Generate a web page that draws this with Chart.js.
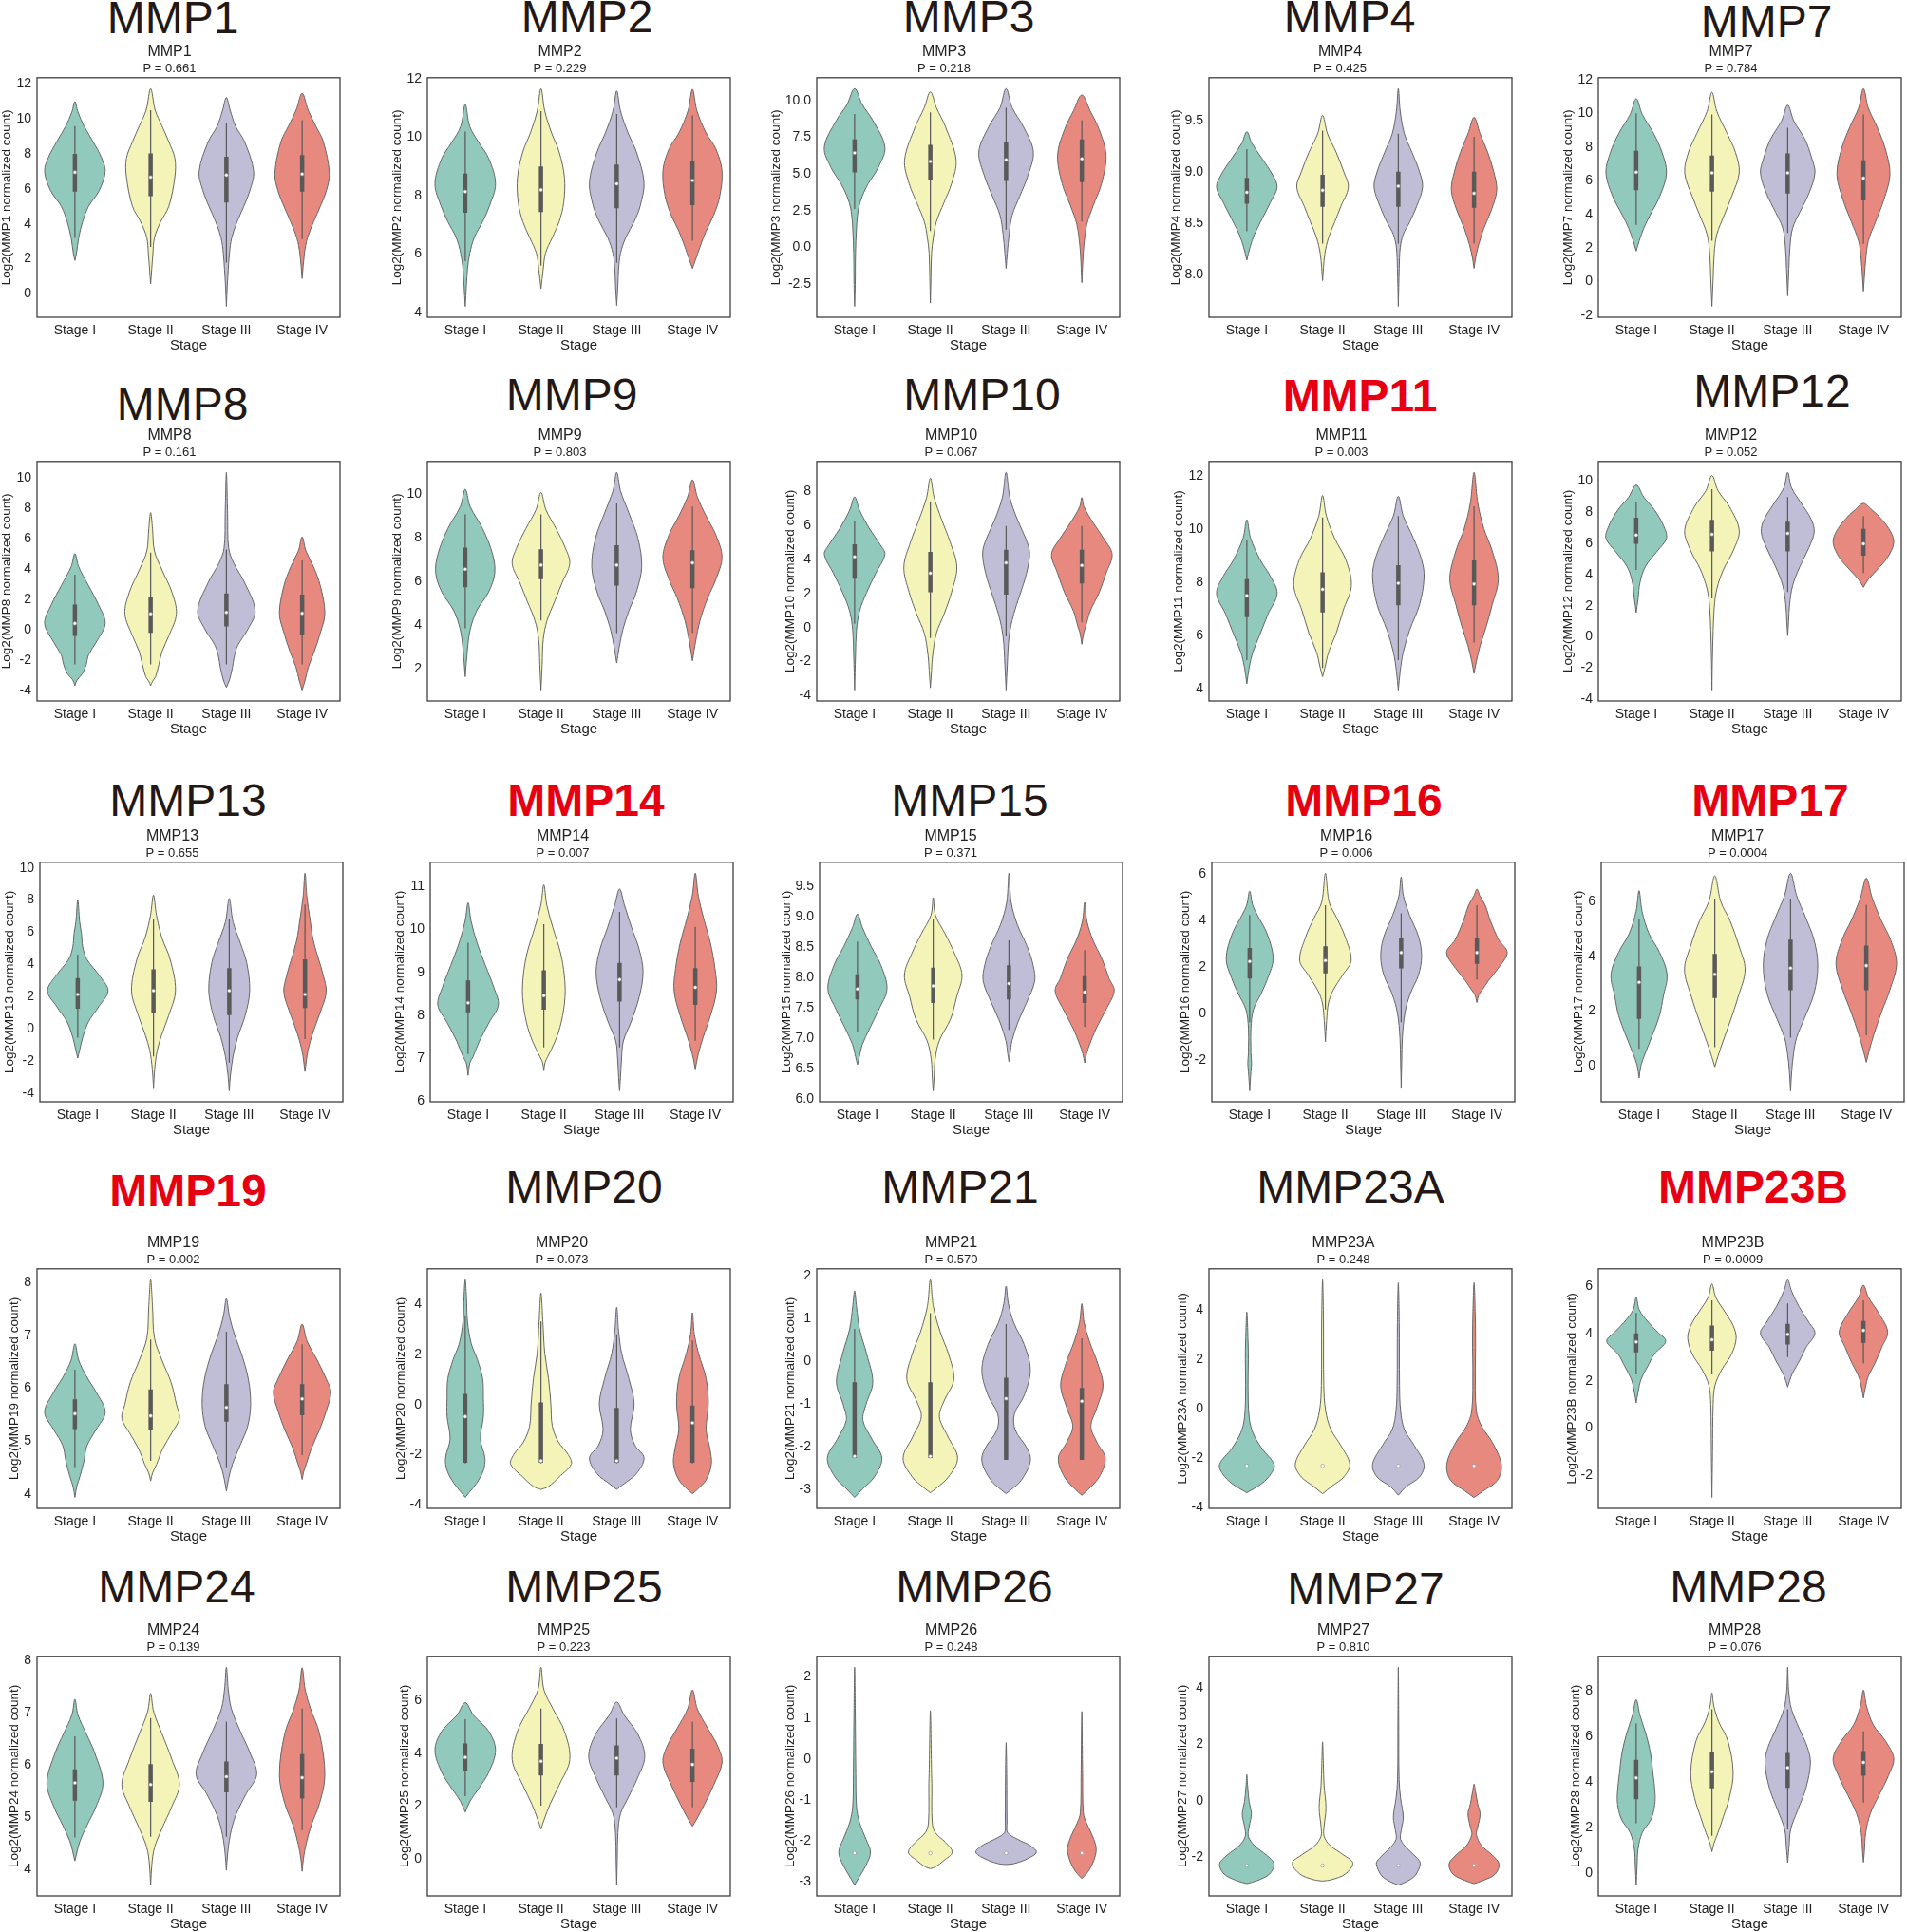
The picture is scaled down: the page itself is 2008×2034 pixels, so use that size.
<!DOCTYPE html>
<html>
<head>
<meta charset="utf-8">
<script src="https://cdn.jsdelivr.net/npm/chart.js@4.4.1/dist/chart.umd.min.js"></script>
<style>
  body { margin: 0; background: #fff; width: 2008px; height: 2034px; position: relative; overflow: hidden;
         font-family: 'Liberation Sans', Arial, Helvetica, sans-serif; }
  .big { position: absolute; font-size: 48px; line-height: 48px; color: #231815; white-space: nowrap; transform: translateX(-50%); }
  .big.sig { color: #e60012; font-weight: bold; }
  canvas { position: absolute; }
</style>
</head>
<body>
<script>
// ---- data ----
const STAGES = ['Stage I', 'Stage II', 'Stage III', 'Stage IV'];
const GENES = ['MMP1', 'MMP2', 'MMP3', 'MMP4', 'MMP7',
               'MMP8', 'MMP9', 'MMP10', 'MMP11', 'MMP12',
               'MMP13', 'MMP14', 'MMP15', 'MMP16', 'MMP17',
               'MMP19', 'MMP20', 'MMP21', 'MMP23A', 'MMP23B',
               'MMP24', 'MMP25', 'MMP26', 'MMP27', 'MMP28'];
const P_VALUES = ['0.661', '0.229', '0.218', '0.425', '0.784',
                  '0.161', '0.803', '0.067', '0.003', '0.052',
                  '0.655', '0.007', '0.371', '0.006', '0.0004',
                  '0.002', '0.073', '0.570', '0.248', '0.0009',
                  '0.139', '0.223', '0.248', '0.810', '0.076'];
const SIGNIFICANT = ['MMP11', 'MMP14', 'MMP16', 'MMP17', 'MMP19', 'MMP23B'];
const Y_TICKS = [
  [0, 2, 4, 6, 8, 10, 12], [4, 6, 8, 10, 12], [-2.5, 0, 2.5, 5, 7.5, 10], [8, 8.5, 9, 9.5], [-2, 0, 2, 4, 6, 8, 10, 12],
  [-4, -2, 0, 2, 4, 6, 8, 10], [2, 4, 6, 8, 10], [-4, -2, 0, 2, 4, 6, 8], [4, 6, 8, 10, 12], [-4, -2, 0, 2, 4, 6, 8, 10],
  [-4, -2, 0, 2, 4, 6, 8, 10], [6, 7, 8, 9, 10, 11], [6, 6.5, 7, 7.5, 8, 8.5, 9, 9.5], [-2, 0, 2, 4, 6], [0, 2, 4, 6],
  [4, 5, 6, 7, 8], [-4, -2, 0, 2, 4], [-3, -2, -1, 0, 1, 2], [-4, -2, 0, 2, 4], [-2, 0, 2, 4, 6],
  [4, 5, 6, 7, 8], [0, 2, 4, 6], [-3, -2, -1, 0, 1, 2], [-2, 0, 2, 4], [0, 2, 4, 6, 8]
];
const Y_DECIMALS = [0, 0, 1, 1, 0, 0, 0, 0, 0, 0, 0, 0, 1, 0, 0, 0, 0, 0, 0, 0, 0, 0, 0, 0, 0];

// violin outlines: [value, half-width, value, half-width, ...] from lower tip to upper tip
// boxes: [lower whisker, q1, median, q3, upper whisker]
const MMP1_VIOLIN = [
  [1.9,0, 2.3,.02, 3.2,.05, 4.1,.10, 5.0,.18, 5.9,.32, 7.0,.40, 7.8,.35, 8.7,.24, 9.6,.12, 10.4,.04, 11.0,0],
  [0.56,0, 2.3,.03, 3.2,.05, 4.1,.13, 5.0,.24, 6.7,.32, 7.75,.32, 8.7,.24, 9.6,.15, 10.5,.06, 11.74,0],
  [-0.72,0, 0.5,.012, 1.4,.025, 2.3,.04, 3.2,.07, 4.1,.14, 5.0,.23, 5.9,.31, 7.0,.36, 8.7,.24, 9.6,.12, 10.5,.05, 11.23,0],
  [0.87,0, 2.3,.03, 3.2,.07, 4.1,.15, 5.0,.24, 5.9,.32, 6.9,.36, 8.7,.28, 9.6,.18, 10.5,.08, 11.47,0]];
const MMP1_BOX = [[3.2,5.85,6.95,8.0,9.6], [2.68,5.58,6.67,8.03,10.5], [1.78,5.22,6.79,7.84,9.78], [3.13,5.85,6.85,7.93,9.93]];

const MMP2_VIOLIN = [
  [4.21,0, 4.94,.016, 5.49,.03, 6.03,.06, 6.57,.12, 7.11,.23, 7.65,.32, 8.41,.40, 9.28,.31, 9.82,.18, 10.37,.06, 11.13,0],
  [4.81,0, 5.49,.03, 6.03,.06, 6.57,.15, 7.11,.24, 7.76,.30, 8.63,.31, 9.5,.24, 10.15,.14, 10.9,.05, 11.67,0],
  [4.24,0, 4.94,.016, 5.49,.025, 6.03,.05, 6.57,.12, 7.11,.23, 7.65,.31, 8.47,.36, 9.5,.26, 10.15,.15, 10.9,.05, 11.59,0],
  [5.51,0, 5.8,.04, 6.25,.10, 6.79,.18, 7.33,.28, 7.98,.36, 8.85,.39, 9.6,.31, 10.15,.18, 10.9,.06, 11.65,0]];
const MMP2_BOX = [[5.76,7.42,8.14,8.76,10.2], [5.6,7.44,8.2,9.0,10.9], [5.7,7.57,8.41,9.07,10.8], [6.46,7.68,8.52,9.2,10.75]];

const MMP3_VIOLIN = [
  [-4.0,0, -2.5,.008, -0.4,.012, 1.33,.025, 2.62,.05, 3.48,.10, 4.34,.18, 5.42,.31, 6.82,.40, 8.65,.24, 9.72,.10, 10.8,0],
  [-3.78,0, -2.0,.008, -0.39,.016, 0.69,.04, 1.76,.08, 3.05,.18, 4.34,.28, 5.96,.34, 8.2,.20, 9.5,.08, 10.58,0],
  [-1.42,0, -0.39,.016, 0.9,.04, 2.19,.08, 3.48,.18, 4.77,.28, 6.49,.36, 8.2,.23, 9.5,.08, 10.8,0],
  [-2.39,0, -1.0,.012, 0.04,.025, 1.55,.065, 2.84,.15, 4.34,.26, 6.28,.32, 8.0,.23, 9.29,.11, 10.37,0]];
const MMP3_BOX = [[2.62,5.1,6.43,7.35,9.08], [1.12,4.56,5.85,6.97,9.18], [1.22,4.52,5.96,7.14,9.5], [1.76,4.45,6.02,7.35,8.65]];

const MMP4_VIOLIN = [
  [8.14,0, 8.26,.04, 8.39,.10, 8.54,.20, 8.7,.31, 8.85,.40, 8.97,.34, 9.13,.20, 9.28,.065, 9.39,0],
  [7.94,0, 8.2,.03, 8.36,.08, 8.51,.16, 8.66,.24, 8.85,.34, 9.0,.28, 9.19,.18, 9.37,.065, 9.55,0],
  [7.69,0, 8.06,.012, 8.26,.025, 8.39,.065, 8.51,.15, 8.66,.24, 8.85,.32, 9.0,.28, 9.19,.18, 9.37,.08, 9.59,.025, 9.81,0],
  [8.06,0, 8.18,.025, 8.3,.065, 8.45,.13, 8.63,.23, 8.82,.30, 9.0,.26, 9.19,.18, 9.37,.08, 9.53,0]];
const MMP4_BOX = [[8.42,8.69,8.8,8.94,9.22], [8.3,8.66,8.82,8.97,9.4], [8.3,8.66,8.86,9.0,9.37], [8.3,8.65,8.79,9.0,9.34]];

const MMP7_VIOLIN = [
  [1.82,0, 2.43,.04, 3.18,.10, 3.93,.18, 5.06,.31, 6.46,.40, 7.68,.34, 8.8,.23, 9.93,.08, 10.86,0],
  [-1.46,0, 0.2,.016, 1.69,.03, 2.81,.065, 3.93,.16, 5.06,.26, 6.46,.36, 7.68,.31, 8.8,.20, 10.1,.065, 11.24,0],
  [-0.84,0, 0.8,.016, 2.06,.03, 3.18,.065, 4.12,.16, 5.24,.28, 6.46,.36, 7.3,.32, 8.43,.23, 9.55,.08, 10.49,0],
  [-0.56,0, 1.31,.03, 2.43,.065, 3.56,.16, 4.87,.27, 6.37,.35, 7.87,.29, 9.18,.18, 10.3,.065, 11.46,0]];
const MMP7_BOX = [[3.37,5.43,6.5,7.77,10.0], [2.43,5.34,6.46,7.49,9.93], [2.9,5.24,6.46,7.62,9.14], [2.25,4.83,6.14,7.21,9.93]];

const MMP8_VIOLIN = [
  [-3.69,0, -3.3,.03, -2.9,.10, -2.28,.15, -1.66,.18, -0.83,.28, 0.41,.40, 1.66,.31, 2.9,.18, 4.15,.05, 5.02,0],
  [-3.69,0, -3.4,.025, -3.1,.065, -2.28,.11, -1.45,.15, -0.41,.24, 1.04,.34, 2.49,.28, 3.94,.15, 5.19,.05, 6.64,.025, 7.72,0],
  [-3.8,0, -3.32,.04, -2.49,.08, -1.87,.10, -1.04,.15, 0.0,.28, 1.24,.38, 3.11,.24, 4.36,.10, 5.39,.03, 7.68,.016, 10.37,0],
  [-3.98,0, -3.32,.04, -2.49,.08, -1.45,.16, -0.21,.24, 1.08,.30, 2.9,.24, 4.15,.15, 5.19,.05, 6.12,0]];
const MMP8_BOX = [[-2.28,-0.41,0.41,1.66,3.63], [-2.28,-0.2,1.04,2.12,5.08], [-2.28,0.21,1.14,2.39,5.29], [-2.28,-0.31,1.08,2.32,4.56]];

const MMP9_VIOLIN = [
  [1.62,0, 2.9,.03, 3.77,.065, 4.64,.15, 5.51,.31, 6.38,.39, 7.25,.36, 8.41,.23, 9.42,.065, 10.22,0],
  [1.01,0, 2.2,.016, 3.33,.03, 4.2,.08, 5.07,.18, 5.94,.28, 6.81,.38, 7.54,.32, 8.41,.20, 9.28,.065, 10.07,0],
  [2.25,0, 2.9,.03, 3.77,.08, 4.64,.16, 5.51,.26, 6.67,.33, 7.97,.28, 9.13,.16, 10.14,.05, 10.99,0],
  [2.35,0, 3.2,.04, 4.2,.10, 5.22,.20, 6.09,.31, 7.1,.39, 8.12,.31, 8.99,.18, 9.86,.065, 10.65,0]];
const MMP9_BOX = [[3.84,5.72,6.55,7.54,9.06], [4.2,6.09,6.74,7.46,9.06], [3.62,5.8,6.74,7.65,9.57], [3.62,5.68,6.84,7.42,9.42]];

const MMP10_VIOLIN = [
  [-3.67,0, -1.63,.012, -0.15,.025, 0.96,.065, 2.07,.16, 3.19,.28, 4.3,.40, 4.85,.34, 5.78,.20, 6.89,.065, 7.67,0],
  [-3.54,0, -2.5,.016, -1.63,.03, -0.33,.08, 0.78,.18, 2.07,.28, 3.56,.35, 5.04,.26, 6.33,.15, 7.63,.05, 8.78,0],
  [-3.67,0, -2.2,.016, -0.52,.04, 0.78,.10, 1.89,.18, 3.19,.27, 4.39,.31, 5.22,.26, 6.33,.15, 7.63,.05, 9.11,0],
  [-0.98,0, -0.3,.025, 0.04,.05, 0.96,.11, 2.07,.23, 3.19,.32, 4.3,.40, 5.22,.29, 6.15,.15, 7.07,.03, 7.63,0]];
const MMP10_BOX = [[0.22,2.87,4.15,4.89,6.24], [-0.61,2.07,3.19,4.44,7.35], [-0.52,1.93,3.8,4.57,5.96], [0.31,2.59,3.65,4.57,5.96]];

const MMP11_VIOLIN = [
  [4.18,0, 4.77,.03, 5.37,.08, 6.08,.18, 6.8,.28, 7.57,.40, 8.23,.31, 8.82,.18, 9.65,.05, 10.35,0],
  [4.44,0, 4.77,.03, 5.37,.08, 6.08,.18, 6.92,.27, 7.87,.38, 8.82,.31, 9.65,.16, 10.49,.05, 11.26,0],
  [3.94,0, 4.65,.025, 5.37,.065, 6.2,.15, 7.15,.28, 8.17,.34, 8.82,.31, 9.65,.20, 10.49,.065, 11.23,0],
  [4.56,0, 5.01,.03, 5.61,.08, 6.32,.16, 7.15,.24, 8.11,.32, 9.18,.24, 10.01,.13, 10.96,.05, 12.13,0]];
const MMP11_BOX = [[5.07,6.68,7.49,8.11,9.6], [4.77,6.86,7.73,8.37,10.43], [5.07,7.13,7.96,8.64,10.49], [5.73,7.13,7.93,8.82,10.85]];

const MMP12_VIOLIN = [
  [1.57,0, 2.48,.025, 3.5,.05, 4.51,.12, 5.53,.28, 6.34,.40, 7.15,.36, 8.17,.24, 8.98,.10, 9.76,0],
  [-3.41,0, -1.0,.008, 1.87,.03, 3.09,.065, 4.31,.15, 5.53,.28, 6.85,.36, 8.37,.23, 9.39,.08, 10.37,0],
  [0.08,0, 1.0,.012, 2.07,.025, 3.29,.065, 4.51,.16, 5.73,.28, 6.75,.35, 7.56,.31, 8.58,.18, 9.59,.05, 10.57,0],
  [3.19,0, 3.7,.065, 4.31,.18, 5.12,.32, 6.04,.40, 6.75,.36, 7.56,.24, 8.17,.11, 8.58,0]];
const MMP12_BOX = [[4.31,5.98,6.54,7.66,8.68], [2.48,5.49,6.59,7.52,9.49], [2.89,5.49,6.65,7.4,8.98], [4.1,5.22,5.98,6.95,7.76]];

const MMP13_VIOLIN = [
  [-1.81,0, -1.32,.025, -0.54,.065, 0.43,.14, 1.4,.28, 2.37,.40, 3.35,.28, 4.32,.12, 5.1,.065, 5.88,.05, 6.65,.025, 8.02,0],
  [-3.66,0, -2.49,.016, -1.32,.05, -0.35,.11, 0.82,.20, 2.37,.29, 4.32,.22, 5.68,.11, 7.04,.04, 8.31,0],
  [-3.85,0, -2.88,.016, -1.71,.05, -0.54,.11, 0.82,.21, 2.37,.27, 4.12,.23, 5.29,.15, 6.65,.05, 8.11,0],
  [-2.65,0, -1.32,.04, -0.16,.11, 1.01,.20, 2.28,.28, 3.35,.24, 4.32,.18, 5.49,.11, 6.85,.065, 8.21,.025, 9.67,0]];
const MMP13_BOX = [[-0.54,1.25,2.14,3.15,4.61], [-1.71,0.97,2.37,3.7,6.85], [-2.1,0.86,2.37,3.77,6.85], [-0.64,1.3,2.14,4.32,7.72]];

const MMP14_VIOLIN = [
  [6.6,0, 6.9,.025, 7.03,.065, 7.4,.15, 7.84,.28, 8.24,.40, 8.65,.34, 9.16,.23, 9.68,.12, 10.19,.04, 10.62,0],
  [6.71,0, 6.9,.016, 7.03,.05, 7.4,.15, 7.84,.23, 8.43,.28, 8.94,.27, 9.46,.22, 10.04,.12, 10.56,.04, 11.04,0],
  [6.24,0, 6.55,.012, 6.96,.025, 7.4,.05, 7.84,.15, 8.43,.26, 9.01,.31, 9.53,.26, 10.04,.16, 10.56,.065, 10.94,0],
  [6.75,0, 6.9,.016, 7.1,.04, 7.47,.10, 7.99,.20, 8.57,.28, 9.09,.26, 9.68,.20, 10.26,.11, 10.78,.04, 11.31,0]];
const MMP14_BOX = [[7.1,8.07,8.29,8.81,9.69], [7.25,8.13,8.46,9.05,10.12], [7.25,8.32,8.83,9.22,10.41], [7.41,8.24,8.65,9.1,10.06]];

const MMP15_VIOLIN = [
  [6.57,0, 6.7,.025, 6.9,.065, 7.16,.16, 7.47,.28, 7.81,.39, 8.2,.31, 8.51,.18, 8.82,.065, 9.04,0],
  [6.14,0, 6.35,.012, 6.65,.025, 6.96,.08, 7.32,.23, 7.68,.31, 8.04,.38, 8.4,.28, 8.71,.16, 9.02,.03, 9.31,0],
  [6.62,0, 6.75,.016, 6.96,.04, 7.27,.12, 7.58,.23, 7.94,.34, 8.2,.32, 8.51,.24, 8.87,.11, 9.23,.03, 9.71,0],
  [6.6,0, 6.75,.025, 6.9,.065, 7.16,.15, 7.47,.28, 7.78,.39, 7.99,.32, 8.3,.23, 8.61,.11, 8.92,.03, 9.23,0]];
const MMP15_BOX = [[7.11,7.64,7.81,8.05,8.59], [6.98,7.58,7.86,8.16,8.95], [7.14,7.64,7.9,8.2,8.61], [7.19,7.58,7.76,8.02,8.45]];

const MMP16_VIOLIN = [
  [-3.32,0, -2.9,.008, -2.5,.016, -2.13,.025, -1.7,.016, -1.46,.016, -0.64,.016, 0.18,.05, 0.85,.15, 1.53,.24, 2.37,.31, 3.43,.23, 4.24,.10, 4.65,.04, 5.26,0],
  [-1.21,0, -0.3,.016, 0.45,.04, 0.99,.10, 1.67,.23, 2.28,.34, 3.3,.26, 4.11,.15, 4.78,.05, 6.03,0],
  [-3.18,0, -2.0,.008, -1.04,.016, 0.04,.05, 0.85,.12, 1.67,.23, 2.48,.27, 3.3,.23, 4.24,.11, 5.05,.03, 5.87,0],
  [0.47,0, 0.8,.025, 0.99,.065, 1.4,.15, 1.94,.28, 2.62,.40, 3.16,.29, 3.97,.18, 4.65,.11, 5.05,.04, 5.35,0]];
const MMP16_BOX = [[-0.37,1.5,2.24,2.82,4.24], [0.18,1.73,2.28,2.89,4.65], [-0.37,1.94,2.62,3.23,4.31], [1.46,2.14,2.62,3.23,4.65]];

const MMP17_VIOLIN = [
  [-0.46,0, 0.0,.025, 0.44,.08, 1.14,.18, 1.83,.27, 2.53,.32, 3.34,.37, 4.15,.27, 4.84,.13, 5.65,.04, 6.41,0],
  [-0.05,0, 0.32,.04, 0.9,.11, 1.6,.20, 2.53,.31, 3.51,.40, 4.38,.32, 5.31,.20, 6.0,.08, 6.95,0],
  [-0.93,0, -0.2,.016, 0.44,.04, 1.02,.08, 1.71,.18, 2.64,.31, 3.68,.36, 4.61,.31, 5.42,.20, 6.23,.08, 7.05,0],
  [0.12,0, 0.56,.04, 1.14,.10, 1.95,.20, 2.76,.31, 3.74,.40, 4.61,.32, 5.31,.20, 6.12,.08, 6.87,0]];
const MMP17_BOX = [[0.61,1.71,3.05,3.63,5.37], [0.67,2.47,3.34,4.09,6.12], [1.02,2.76,3.57,4.61,6.12], [1.11,2.76,3.66,4.4,5.89]];

const MMP19_VIOLIN = [
  [3.94,0, 4.15,.025, 4.33,.065, 4.63,.12, 4.92,.16, 5.22,.28, 5.55,.40, 5.93,.28, 6.23,.15, 6.53,.05, 6.84,0],
  [4.25,0, 4.4,.025, 4.57,.08, 4.86,.16, 5.16,.28, 5.43,.38, 5.7,.34, 6.11,.27, 6.53,.15, 6.95,.05, 7.54,.025, 8.05,0],
  [4.06,0, 4.3,.03, 4.57,.08, 4.92,.18, 5.28,.28, 5.7,.32, 6.17,.29, 6.65,.20, 7.0,.11, 7.36,.04, 7.69,0],
  [4.28,0, 4.45,.025, 4.57,.055, 4.86,.12, 5.22,.23, 5.58,.32, 5.93,.38, 6.17,.32, 6.53,.20, 6.89,.065, 7.21,0]];
const MMP19_BOX = [[4.51,5.23,5.52,5.79,6.35], [4.63,5.22,5.48,5.98,6.92], [4.51,5.37,5.64,6.08,7.07], [4.74,5.49,5.8,6.08,6.83]];

const MMP20_VIOLIN = [
  [-3.71,0, -3.52,.05, -3.14,.15, -2.63,.24, -2.13,.26, -1.37,.20, -0.48,.24, 0.28,.24, 1.04,.23, 1.8,.16, 2.43,.08, 3.32,.03, 4.33,.016, 4.99,0],
  [-3.39,0, -3.27,.10, -2.89,.24, -2.38,.40, -2.0,.36, -1.49,.23, -0.86,.15, 0.03,.13, 1.04,.10, 2.05,.05, 3.32,.025, 4.46,0],
  [-3.39,0, -3.2,.08, -2.76,.26, -2.13,.36, -1.62,.24, -0.99,.18, 0.03,.23, 1.04,.16, 2.05,.065, 2.94,.025, 3.89,0],
  [-3.56,0, -3.39,.065, -3.01,.18, -2.38,.25, -1.75,.23, -0.99,.18, 0.03,.21, 1.04,.18, 2.05,.08, 2.81,.025, 3.67,0]];
const MMP20_BOX = [[-2.35,-2.32,-0.48,0.43,3.57], [-2.35,-2.32,-2.25,0.09,3.32], [-2.35,-2.32,-2.25,-0.13,2.81], [-2.35,-2.32,-0.73,-0.04,2.56]];

const MMP21_VIOLIN = [
  [-3.19,0, -3.0,.10, -2.71,.26, -2.27,.36, -1.83,.23, -1.39,.11, -1.02,.15, -0.5,.24, 0.16,.16, 0.75,.065, 1.27,.025, 1.64,0],
  [-3.08,0, -2.97,.08, -2.71,.24, -2.27,.36, -1.76,.23, -1.31,.12, -0.94,.18, -0.43,.31, 0.16,.24, 0.68,.13, 1.27,.04, 1.9,0],
  [-3.1,0, -3.01,.065, -2.79,.20, -2.35,.32, -2.05,.28, -1.61,.12, -1.24,.11, -0.8,.24, -0.21,.32, 0.38,.24, 0.9,.10, 1.34,.03, 1.75,0],
  [-3.14,0, -3.01,.08, -2.71,.23, -2.27,.31, -1.9,.20, -1.53,.12, -1.09,.20, -0.58,.28, -0.06,.21, 0.46,.10, 0.9,.03, 1.34,0]];
const MMP21_BOX = [[-2.27,-2.27,-2.23,-0.5,0.75], [-2.27,-2.27,-2.23,-0.5,1.12], [-2.31,-2.31,-0.88,-0.39,0.86], [-2.31,-2.31,-0.94,-0.63,0.53]];

const MMP23A_VIOLIN = [
  [-3.39,0, -3.01,.20, -2.62,.32, -2.24,.36, -1.6,.20, -0.96,.08, -0.32,.03, 0.96,.016, 2.0,.02, 2.75,.016, 3.93,0],
  [-3.43,0, -3.13,.12, -2.75,.28, -2.24,.36, -1.47,.24, -0.83,.11, -0.06,.04, 0.96,.016, 3.52,.012, 5.24,0],
  [-3.49,0, -3.15,.10, -2.75,.28, -2.24,.34, -1.47,.21, -0.83,.08, -0.06,.03, 0.96,.016, 3.5,.012, 5.12,0],
  [-3.58,0, -3.32,.12, -2.88,.31, -2.24,.36, -1.34,.24, -0.7,.10, -0.06,.03, 1.6,.016, 2.5,.02, 3.77,.016, 5.12,0]];
const MMP23A_BOX = [[-2.3,-2.3,-2.3,-2.3,-2.3], [-2.3,-2.3,-2.3,-2.3,-2.3], [-2.3,-2.3,-2.3,-2.3,-2.3], [-2.3,-2.3,-2.3,-2.3,-2.3]];

const MMP23B_VIOLIN = [
  [1.07,0, 1.53,.025, 2.07,.065, 2.6,.15, 3.13,.24, 3.67,.39, 4.07,.28, 4.47,.16, 5.0,.04, 5.53,0],
  [-2.93,0, -1.0,.008, 1.0,.016, 1.8,.04, 2.47,.13, 3.13,.26, 3.8,.32, 4.33,.28, 4.87,.18, 5.53,.05, 6.09,0],
  [1.73,0, 2.0,.025, 2.33,.065, 2.87,.16, 3.4,.24, 4.0,.36, 4.47,.28, 5.13,.15, 5.8,.05, 6.27,0],
  [1.27,0, 1.7,.025, 2.2,.065, 2.73,.15, 3.4,.24, 4.07,.32, 4.87,.20, 5.53,.065, 6.04,0]];
const MMP23B_BOX = [[2.27,3.2,3.64,4.0,4.87], [2.27,3.27,3.73,4.33,5.4], [3.0,3.53,3.96,4.4,5.27], [2.73,3.6,4.13,4.53,5.4]];

const MMP24_VIOLIN = [
  [4.17,0, 4.54,.065, 4.85,.16, 5.21,.28, 5.66,.37, 6.24,.26, 6.6,.15, 6.96,.04, 7.26,0],
  [3.71,0, 4.1,.016, 4.42,.05, 4.79,.15, 5.21,.28, 5.63,.38, 6.11,.28, 6.6,.15, 7.02,.04, 7.37,0],
  [3.99,0, 4.3,.016, 4.66,.05, 5.03,.12, 5.45,.26, 5.82,.40, 6.24,.31, 6.66,.18, 7.08,.065, 7.44,.025, 7.87,0],
  [3.97,0, 4.2,.016, 4.48,.05, 4.85,.12, 5.27,.23, 5.81,.30, 6.6,.23, 7.08,.11, 7.44,.04, 7.86,0]];
const MMP24_BOX = [[4.62,5.32,5.66,5.92,6.55], [4.63,5.3,5.63,6.02,6.9], [4.63,5.48,5.78,6.07,6.83], [4.76,5.36,5.76,6.21,7.08]];

const MMP25_VIOLIN = [
  [1.78,0, 2.2,.065, 2.68,.18, 3.28,.31, 4.12,.40, 4.84,.31, 5.44,.11, 5.92,0],
  [1.14,0, 1.48,.04, 2.08,.12, 2.8,.24, 3.76,.38, 4.84,.31, 5.68,.16, 6.4,.04, 7.26,0],
  [-0.98,0, 0.0,.008, 1.0,.016, 1.72,.05, 2.32,.15, 3.04,.27, 3.88,.37, 4.72,.28, 5.44,.10, 5.94,0],
  [1.24,0, 1.48,.05, 2.08,.16, 2.8,.28, 3.64,.39, 4.24,.34, 4.96,.20, 5.68,.065, 6.4,0]];
const MMP25_BOX = [[2.38,3.34,3.85,4.38,5.29], [2.02,3.16,3.7,4.36,5.7], [1.96,3.16,3.82,4.3,5.32], [1.96,2.92,3.58,4.18,5.2]];

const MMP26_VIOLIN = [
  [-3.08,0, -2.92,.05, -2.6,.15, -2.28,.21, -1.96,.15, -1.56,.065, -1.16,.025, -0.36,.016, 1.24,.008, 2.24,0],
  [-2.68,0, -2.64,.065, -2.48,.18, -2.28,.29, -2.04,.20, -1.8,.065, -1.56,.025, -0.6,.02, -0.36,.016, 1.18,0],
  [-2.58,0, -2.56,.10, -2.44,.28, -2.28,.40, -2.12,.32, -1.96,.15, -1.8,.02, -1.56,.012, -0.36,.008, 0.4,0],
  [-2.92,0, -2.76,.08, -2.52,.15, -2.2,.19, -1.88,.14, -1.56,.06, -1.32,.02, -0.36,.01, 1.16,0]];
const MMP26_BOX = [[-2.3,-2.3,-2.3,-2.3,-2.3], [-2.3,-2.3,-2.3,-2.3,-2.3], [-2.3,-2.3,-2.3,-2.3,-2.3], [-2.3,-2.3,-2.3,-2.3,-2.3]];

const MMP27_VIOLIN = [
  [-2.94,0, -2.83,.14, -2.6,.30, -2.24,.36, -1.93,.26, -1.59,.10, -1.26,.02, -0.92,.03, -0.47,.06, -0.02,.03, 0.54,.01, 0.93,0],
  [-2.85,0, -2.8,.12, -2.6,.30, -2.21,.40, -1.93,.28, -1.59,.10, -1.26,.02, -0.92,.02, -0.25,.045, 0.54,.02, 1.32,.01, 2.09,0],
  [-2.99,0, -2.88,.10, -2.66,.22, -2.24,.29, -2.04,.25, -1.7,.12, -1.37,.03, -1.03,.04, -0.58,.065, 0.09,.03, 0.76,.01, 3.0,.005, 4.74,0],
  [-2.94,0, -2.83,.12, -2.6,.28, -2.24,.33, -1.93,.24, -1.59,.10, -1.2,.03, -0.92,.05, -0.47,.08, -0.13,.05, 0.31,.02, 0.59,0]];
const MMP27_BOX = [[-2.3,-2.3,-2.3,-2.3,-2.3], [-2.3,-2.3,-2.3,-2.3,-2.3], [-2.3,-2.3,-2.3,-2.3,-2.3], [-2.3,-2.3,-2.3,-2.3,-2.3]];

const MMP28_VIOLIN = [
  [-0.53,0, 0.3,.012, 1.07,.025, 1.77,.08, 2.32,.19, 2.88,.24, 3.44,.25, 4.41,.22, 5.24,.19, 6.08,.13, 6.91,.05, 7.61,0],
  [0.93,0, 1.28,.025, 1.77,.08, 2.46,.15, 3.3,.23, 4.41,.28, 5.8,.21, 6.63,.09, 7.33,.025, 7.91,0],
  [0.45,0, 1.07,.016, 1.91,.04, 2.74,.13, 3.71,.24, 4.83,.30, 5.52,.26, 6.36,.15, 7.19,.05, 8.03,.012, 9.03,0],
  [0.47,0, 0.93,.012, 1.77,.03, 2.6,.09, 3.44,.21, 4.27,.33, 5.03,.40, 5.8,.29, 6.5,.13, 7.33,.04, 8.03,0]];
const MMP28_BOX = [[2.18,3.23,4.17,4.97,6.56], [1.63,3.71,4.44,5.31,7.19], [1.91,3.74,4.62,5.27,7.19], [3.09,4.27,4.85,5.35,6.22]];

const VIOLINS = [MMP1_VIOLIN, MMP2_VIOLIN, MMP3_VIOLIN, MMP4_VIOLIN, MMP7_VIOLIN,
  MMP8_VIOLIN, MMP9_VIOLIN, MMP10_VIOLIN, MMP11_VIOLIN, MMP12_VIOLIN,
  MMP13_VIOLIN, MMP14_VIOLIN, MMP15_VIOLIN, MMP16_VIOLIN, MMP17_VIOLIN,
  MMP19_VIOLIN, MMP20_VIOLIN, MMP21_VIOLIN, MMP23A_VIOLIN, MMP23B_VIOLIN,
  MMP24_VIOLIN, MMP25_VIOLIN, MMP26_VIOLIN, MMP27_VIOLIN, MMP28_VIOLIN];
const BOXES = [MMP1_BOX, MMP2_BOX, MMP3_BOX, MMP4_BOX, MMP7_BOX,
  MMP8_BOX, MMP9_BOX, MMP10_BOX, MMP11_BOX, MMP12_BOX,
  MMP13_BOX, MMP14_BOX, MMP15_BOX, MMP16_BOX, MMP17_BOX,
  MMP19_BOX, MMP20_BOX, MMP21_BOX, MMP23A_BOX, MMP23B_BOX,
  MMP24_BOX, MMP25_BOX, MMP26_BOX, MMP27_BOX, MMP28_BOX];

// ---- layout & style ----
const COL_LEFT = [39, 450, 860, 1273, 1683];
const ROW_TOP = [82, 486, 908, 1336, 1744];
const ROW_SHIFT = [0, 0, 3, 0, 0];
const BOX_W = 319, BOX_H = 252, TOP_H = 42, BOT_H = 42;
const TITLE_X = [182, 618, 1020, 1421, 1860, 192, 602, 1034, 1432, 1866, 198, 617, 1021, 1436, 1864,
                 198, 615, 1011, 1422, 1846, 186, 615, 1026, 1438, 1841];
const TITLE_BASE = [36, 35, 35, 35, 40, 443, 433, 433, 434, 429, 860, 860, 860, 860, 860,
                    1271, 1267, 1267, 1267, 1267, 1688, 1688, 1688, 1690, 1688];
const FILLS = ['#92c9bd', '#f4f3b8', '#c0bdd7', '#e8897f'];
const EDGE = '#676767';
const INNER = '#595959';
const FONT = "'Liberation Sans', Arial, Helvetica, sans-serif";

Chart.defaults.font.family = FONT;
Chart.defaults.color = '#222';

const frame = {
  id: 'frame',
  afterDraw(chart) {
    const { ctx, chartArea: a } = chart;
    ctx.save();
    ctx.strokeStyle = '#3f3f3f';
    ctx.lineWidth = 1.3;
    ctx.strokeRect(a.left, a.top, a.right - a.left, a.bottom - a.top);
    ctx.restore();
  }
};

const measure = document.createElement('canvas').getContext('2d');
measure.font = '14px ' + FONT;

function outline(profile, cat) {
  const right = [], left = [];
  for (let i = 0; i < profile.length; i += 2) right.push({ x: cat + profile[i + 1], y: profile[i] });
  for (let i = profile.length - 2; i >= 0; i -= 2) left.push({ x: cat - profile[i + 1], y: profile[i] });
  return right.concat(left.slice(1));
}

GENES.forEach((gene, i) => {
  const r = Math.floor(i / 5), c = i % 5;
  const boxLeft = COL_LEFT[c] + ROW_SHIFT[r];
  const boxTop = ROW_TOP[r];
  const fmt = v => Number(v).toFixed(Y_DECIMALS[i]);

  // y label sits left of the widest tick label, like matplotlib
  const tickW = Math.max(...Y_TICKS[i].map(v => measure.measureText(fmt(v)).width));
  const axW = Math.round(tickW + 24);

  // big heading above each panel
  const h = document.createElement('div');
  h.className = 'big' + (SIGNIFICANT.includes(gene) ? ' sig' : '');
  h.textContent = gene;
  h.style.left = TITLE_X[i] + 'px';
  h.style.top = (TITLE_BASE[i] - 40.6) + 'px';
  document.body.appendChild(h);

  const cv = document.createElement('canvas');
  cv.width = axW * 2 + BOX_W;
  cv.height = TOP_H + BOX_H + BOT_H;
  cv.style.left = (boxLeft - axW) + 'px';
  cv.style.top = (boxTop - TOP_H) + 'px';
  document.body.appendChild(cv);

  // y range like matplotlib autoscale: violin extent plus 5% margins
  let lo = Infinity, hi = -Infinity;
  VIOLINS[i].forEach(p => { lo = Math.min(lo, p[0]); hi = Math.max(hi, p[p.length - 2]); });
  const pad = (hi - lo) * 0.05;

  const datasets = [];
  VIOLINS[i].forEach((prof, k) => {
    const b = BOXES[i][k];
    datasets.push({ type: 'line', data: outline(prof, k), showLine: true, fill: 'shape', tension: 0.35,
      backgroundColor: FILLS[k], borderColor: EDGE, borderWidth: 1, pointRadius: 0, order: 3 });
    datasets.push({ type: 'line', data: [{ x: k, y: b[0] }, { x: k, y: b[4] }], showLine: true, fill: false,
      borderColor: INNER, borderWidth: 1.2, pointRadius: 0, order: 2 });
    datasets.push({ type: 'line', data: [{ x: k, y: b[1] }, { x: k, y: b[3] }], showLine: true, fill: false,
      borderColor: INNER, borderWidth: 4.5, borderCapStyle: 'butt', pointRadius: 0, order: 1 });
    datasets.push({ type: 'scatter', data: [{ x: k, y: b[2] }], showLine: false,
      pointRadius: 1.8, pointBackgroundColor: '#fff', pointBorderColor: '#8a8a8a', pointBorderWidth: 0.6, order: 0 });
  });

  new Chart(cv, {
    type: 'scatter',
    data: { datasets },
    plugins: [frame],
    options: {
      responsive: false,
      animation: false,
      events: [],
      layout: { padding: { left: 0, right: axW, top: 0, bottom: 0 } },
      plugins: {
        legend: { display: false },
        tooltip: { enabled: false },
        title: { display: true, text: gene, font: { size: 16, weight: 'normal' }, color: '#222', padding: { top: 5, bottom: 0 } },
        subtitle: { display: true, text: 'P = ' + P_VALUES[i], font: { size: 13 }, color: '#222', padding: { top: 0, bottom: 2 } }
      },
      scales: {
        x: {
          type: 'linear', min: -0.5, max: 3.5,
          grid: { display: false, drawTicks: false }, border: { display: false },
          afterBuildTicks: s => { s.ticks = STAGES.map((_, k) => ({ value: k })); },
          afterFit: s => { s.height = BOT_H; },
          ticks: { callback: v => STAGES[v], font: { size: 14 }, color: '#222', padding: 6, maxRotation: 0, autoSkip: false },
          title: { display: true, text: 'Stage', font: { size: 15 }, color: '#222', padding: { top: 0, bottom: 3 } }
        },
        y: {
          type: 'linear', min: lo - pad, max: hi + pad, bounds: 'data',
          grid: { display: false, drawTicks: false }, border: { display: false },
          afterBuildTicks: s => { s.ticks = Y_TICKS[i].map(v => ({ value: v })); },
          afterFit: s => { s.width = axW; },
          ticks: { callback: fmt, font: { size: 14 }, color: '#222', padding: 6 },
          title: { display: true, text: 'Log2(' + gene + ' normalized count)', font: { size: 13.5 }, color: '#222', padding: { top: 0, bottom: 0 } }
        }
      }
    }
  });
});
</script>
</body>
</html>
